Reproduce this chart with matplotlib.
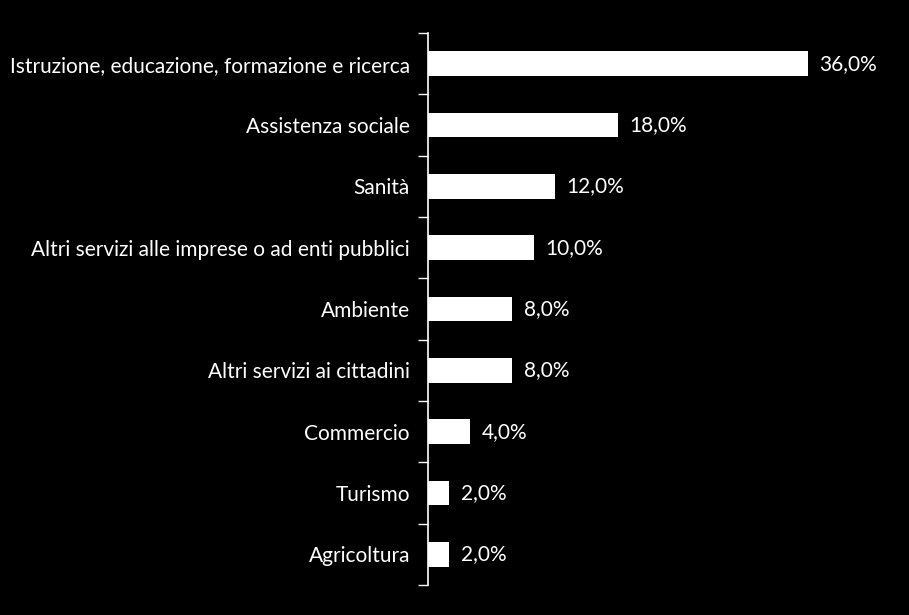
import matplotlib
matplotlib.use("Agg")
import matplotlib.pyplot as plt

categories = ["Istruzione, educazione, formazione e ricerca", "Assistenza sociale", "Sanità",
              "Altri servizi alle imprese o ad enti pubblici", "Ambiente", "Altri servizi ai cittadini",
              "Commercio", "Turismo", "Agricoltura"]
values = [36.0, 18.0, 12.0, 10.0, 8.0, 8.0, 4.0, 2.0, 2.0]

plt.rcParams['font.family'] = ['Lato', 'DejaVu Sans']
W, H = 909, 615
fig = plt.figure(figsize=(W/100, H/100), dpi=100, facecolor='black')
left, right, top, bottom = 428, 900, 33, 585
ax = fig.add_axes([left/W, (H-bottom)/H, (right-left)/W, (bottom-top)/H])
ax.set_facecolor('black')
n = len(categories)
y = list(range(n))
ax.barh(y, values, height=0.40, color='white')
ax.set_ylim(n-0.5, -0.5)
ax.set_xlim(0, 36*(right-left)/380)
ax.set_yticks(y)
ax.set_yticklabels(categories, color='white', fontsize=15)
ax.set_yticks([i-0.5 for i in range(n+1)], minor=True)
ax.tick_params(axis='y', which='major', length=0, pad=13)
ax.tick_params(axis='y', which='minor', length=7, color='white', width=1)
ax.set_xticks([])
for s in ['top', 'right', 'bottom']:
    ax.spines[s].set_visible(False)
ax.spines['left'].set_color('white')
ax.spines['left'].set_linewidth(1.2)
for yi, v in zip(y, values):
    ax.text(v + 1.1, yi, f"{v:.1f}".replace('.', ',') + "%", color='white', fontsize=15,
            va='center', ha='left')
fig.savefig("out.png", dpi=100, facecolor='black')
